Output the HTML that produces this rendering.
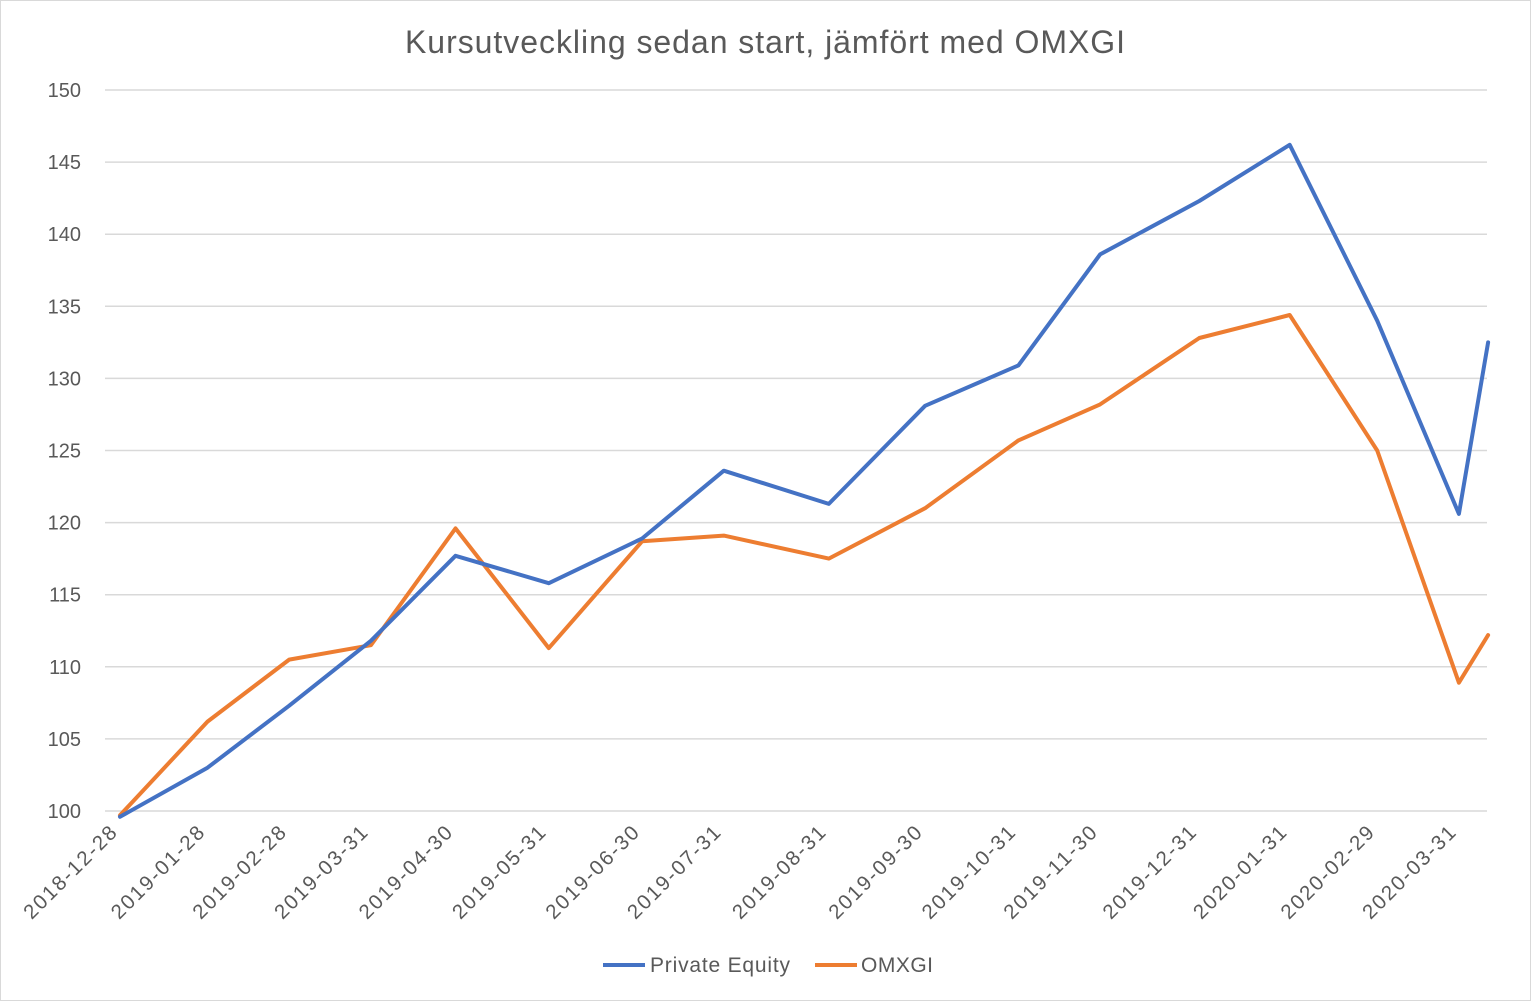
<!DOCTYPE html>
<html><head><meta charset="utf-8"><style>
body{margin:0;background:#fff;}
svg{display:block;font-family:"Liberation Sans",sans-serif;}
</style></head><body>
<svg id="chart" width="1531" height="1001">
<rect x="0.5" y="0.5" width="1530" height="1000" fill="#fff" stroke="#d9d9d9"/>
<text x="765" y="53" text-anchor="middle" font-size="32" textLength="720" fill="#595959">Kursutveckling sedan start, jämfört med OMXGI</text>
<g id="grid"></g><g id="ylabels"></g><g id="xlabels"></g><g id="lines"></g>
<g>
<line x1="603" y1="965" x2="645" y2="965" stroke="#4472c4" stroke-width="4"/>
<text x="650" y="972" font-size="21" textLength="140" fill="#595959">Private Equity</text>
<line x1="815" y1="965" x2="857" y2="965" stroke="#ed7d31" stroke-width="4"/>
<text x="861" y="972" font-size="21" textLength="72" fill="#595959">OMXGI</text>
</g>
</svg>
<script>
const dates=["2018-12-28","2019-01-27","2019-02-24","2019-03-24","2019-04-22","2019-05-24","2019-06-25","2019-07-23","2019-08-28","2019-09-30","2019-11-01","2019-11-29","2020-01-02","2020-02-02","2020-03-03","2020-03-31","2020-04-10"];
const tickLabels=["2018-12-28","2019-01-28","2019-02-28","2019-03-31","2019-04-30","2019-05-31","2019-06-30","2019-07-31","2019-08-31","2019-09-30","2019-10-31","2019-11-30","2019-12-31","2020-01-31","2020-02-29","2020-03-31"];
const privateEquity=[99.6,103.0,107.3,111.8,117.7,115.8,118.9,123.6,121.3,128.1,130.9,138.6,142.3,146.2,134.0,120.6,132.5];
const omxgi=[99.7,106.2,110.5,111.5,119.6,111.3,118.7,119.1,117.5,121.0,125.7,128.2,132.8,134.4,125.0,108.9,112.2];
const yTicks=[100,105,110,115,120,125,130,135,140,145,150];
const NS="http://www.w3.org/2000/svg";
const t0=Date.parse(dates[0]);
function x(d){return 120+(Date.parse(d)-t0)/86400000*2.917;}
function y(v){return 811-(v-100)*14.42;}
function mk(tag,attrs,parent){const e=document.createElementNS(NS,tag);for(const k in attrs)e.setAttribute(k,attrs[k]);document.getElementById(parent).appendChild(e);return e;}
yTicks.forEach(v=>{
 const l=mk('line',{x1:105,x2:1487,y1:y(v),y2:y(v),stroke:'#d9d9d9','stroke-width':1.5},'grid');
 
 
 const t=mk('text',{x:81,y:y(v)+7,'text-anchor':'end','font-size':20,fill:'#595959'},'ylabels');
 t.textContent=v;
 
 
});
tickLabels.forEach((s,i)=>{
 const px=x(dates[i])-2,py=834;
 const t=mk('text',{x:px,y:py,'text-anchor':'end','font-size':20.5,textLength:122,fill:'#595959',transform:`rotate(-45 ${px} ${py})`},'xlabels');
 t.textContent=s;
 
 
});
function series(vals,color,name){
 const pts=vals.map((v,i)=>x(dates[i]).toFixed(1)+','+y(v).toFixed(1)).join(' ');
 const p=mk('polyline',{points:pts,fill:'none',stroke:color,'stroke-width':4,'stroke-linejoin':'round','stroke-linecap':'round'},'lines');
 
 
}
series(omxgi,'#ed7d31','omxgi-line');
series(privateEquity,'#4472c4','private-equity-line');
</script>
</body></html>
